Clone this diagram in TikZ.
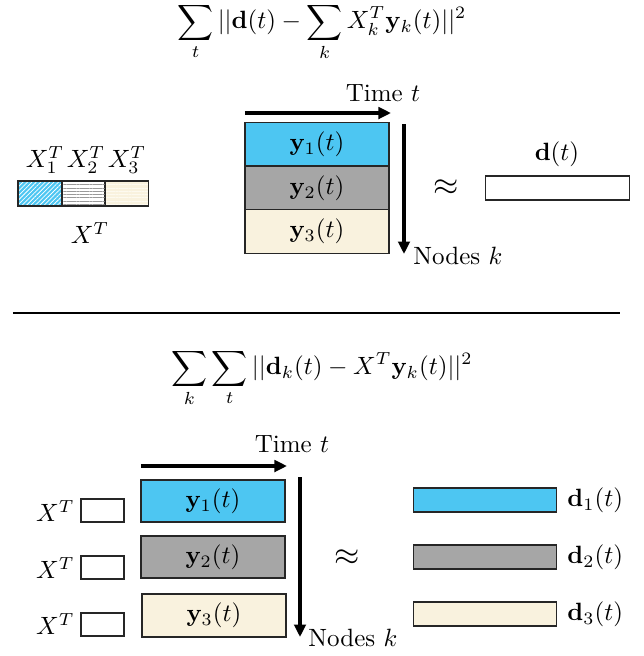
\documentclass[tikz,border=0pt]{standalone}
\usetikzlibrary{arrows.meta,patterns.meta}
\definecolor{cyanc}{RGB}{77,198,242}
\definecolor{grayc}{RGB}{166,166,166}
\definecolor{creamc}{RGB}{249,242,222}
\definecolor{creaml}{RGB}{253,250,240}
\begin{document}
\begin{tikzpicture}[x=0.4pt,y=-0.4pt,
  box/.style={draw=black!85,line width=0.45pt,inner sep=0pt,outer sep=0pt,minimum width=57.6pt,minimum height=17.2pt},
  dbox/.style={draw=black!85,line width=0.45pt,inner sep=0pt,outer sep=0pt,minimum width=57.4pt,minimum height=9.6pt},
  sbox/.style={draw=black!85,line width=0.45pt,inner sep=0pt,outer sep=0pt,minimum width=17.2pt,minimum height=9.2pt},
  xbox/.style={draw=black!85,line width=0.45pt,inner sep=0pt,outer sep=0pt,minimum width=17.4pt,minimum height=10pt},
  bigarrow/.style={line width=1.6pt,-{Triangle[length=5pt,width=4.6pt]}},
  lbl/.style={inner sep=0pt},
  approxlbl/.style={inner sep=0pt,scale=1.3}]
\useasboundingbox (0,0) rectangle (644,656);
% ---------- top ----------
\node[lbl] (f1) at (322,32) {$\displaystyle\sum_t ||\mathbf{d}(t)-\sum_k X_k^T\mathbf{y}_k(t)||^2$};
\node[lbl] (time1) at (383,93) {Time $t$};
\coordinate (ta1) at (245,113);
\coordinate (ta2) at (391,113);
\draw[bigarrow] (ta1) -- (ta2);
\node[box,fill=cyanc,minimum height=17.4pt] (y1) at (317,144.5) {$\mathbf{y}_1(t)$};
\node[box,fill=grayc,minimum height=17.6pt] (y2) at (317,188) {$\mathbf{y}_2(t)$};
\node[box,fill=creamc,minimum height=17.4pt] (y3) at (317,231.5) {$\mathbf{y}_3(t)$};
\coordinate (na1) at (404,124);
\coordinate (na2) at (404,254);
\draw[bigarrow] (na1) -- (na2);
\node[lbl,anchor=west] (nodes1) at (413,256) {Nodes $k$};
\node[approxlbl] (approx1) at (446,188) {$\approx$};
\node[dbox] (d) at (557.5,188) {};
\node[lbl] (dl) at (557,154) {$\mathbf{d}(t)$};
% X^T bar
\node[xbox,fill=cyanc,minimum width=17.6pt] (x1) at (40,193.5) {};
\fill[pattern={Lines[angle=45,distance=1.25pt,line width=0.3pt]},pattern color=white] (x1.south west) rectangle (x1.north east);
\node[xbox,fill=white] (x2) at (83.5,193.5) {};
\fill[pattern={Lines[angle=0,distance=1.3pt,line width=0.25pt]},pattern color=black!40] (x2.south west) rectangle (x2.north east);
\node[xbox,fill=creamc] (x3) at (126.5,193.5) {};
\fill[pattern={Lines[angle=0,distance=1.3pt,line width=0.3pt]},pattern color=creaml] (x3.south west) rectangle (x3.north east);
\draw[black!85,line width=0.45pt] (x1.south west) rectangle (x3.north east);
\draw[black!85,line width=0.45pt] (x1.north east) -- (x1.south east) (x2.north east) -- (x2.south east);
\node[lbl] (xl1) at (45,160) {$X_1^T$};
\node[lbl] (xl2) at (86,160) {$X_2^T$};
\node[lbl] (xl3) at (127,160) {$X_3^T$};
\node[lbl] (xt) at (90,233) {$X^T$};
% divider
\coordinate (dv1) at (13,313);
\coordinate (dv2) at (620,313);
\draw[line width=0.45pt] (dv1) -- (dv2);
% ---------- bottom ----------
\node[lbl] (f2) at (322,378) {$\displaystyle\sum_k\sum_t ||\mathbf{d}_k(t)-X^T\mathbf{y}_k(t)||^2$};
\node[lbl] (time2) at (292,444) {Time $t$};
\coordinate (tb1) at (141,466);
\coordinate (tb2) at (287,466);
\draw[bigarrow] (tb1) -- (tb2);
\node[box,fill=cyanc,minimum height=16.8pt] (b1) at (213,501) {$\mathbf{y}_1(t)$};
\node[box,fill=grayc,minimum height=16.8pt] (b2) at (213,557) {$\mathbf{y}_2(t)$};
\node[box,fill=creamc,minimum height=17.2pt] (b3) at (214,615.5) {$\mathbf{y}_3(t)$};
\coordinate (nb1) at (300,477);
\coordinate (nb2) at (300,637);
\draw[bigarrow] (nb1) -- (nb2);
\node[lbl,anchor=west] (nodes2) at (308,638) {Nodes $k$};
\node[approxlbl] (approx2) at (347,558) {$\approx$};
\node[sbox] (s1) at (102.5,510.5) {};
\node[sbox] (s2) at (102.5,567.5) {};
\node[sbox] (s3) at (102.5,624.5) {};
\node[lbl,anchor=east] (sl1) at (75,511) {$X^T$};
\node[lbl,anchor=east] (sl2) at (75,568) {$X^T$};
\node[lbl,anchor=east] (sl3) at (75,624) {$X^T$};
\node[dbox,fill=cyanc] (e1) at (485,500) {};
\node[dbox,fill=grayc] (e2) at (485,557) {};
\node[dbox,fill=creamc] (e3) at (485,614) {};
\node[lbl,anchor=west] (el1) at (567,500) {$\mathbf{d}_1(t)$};
\node[lbl,anchor=west] (el2) at (567,557) {$\mathbf{d}_2(t)$};
\node[lbl,anchor=west] (el3) at (567,614) {$\mathbf{d}_3(t)$};
\end{tikzpicture}
\end{document}
